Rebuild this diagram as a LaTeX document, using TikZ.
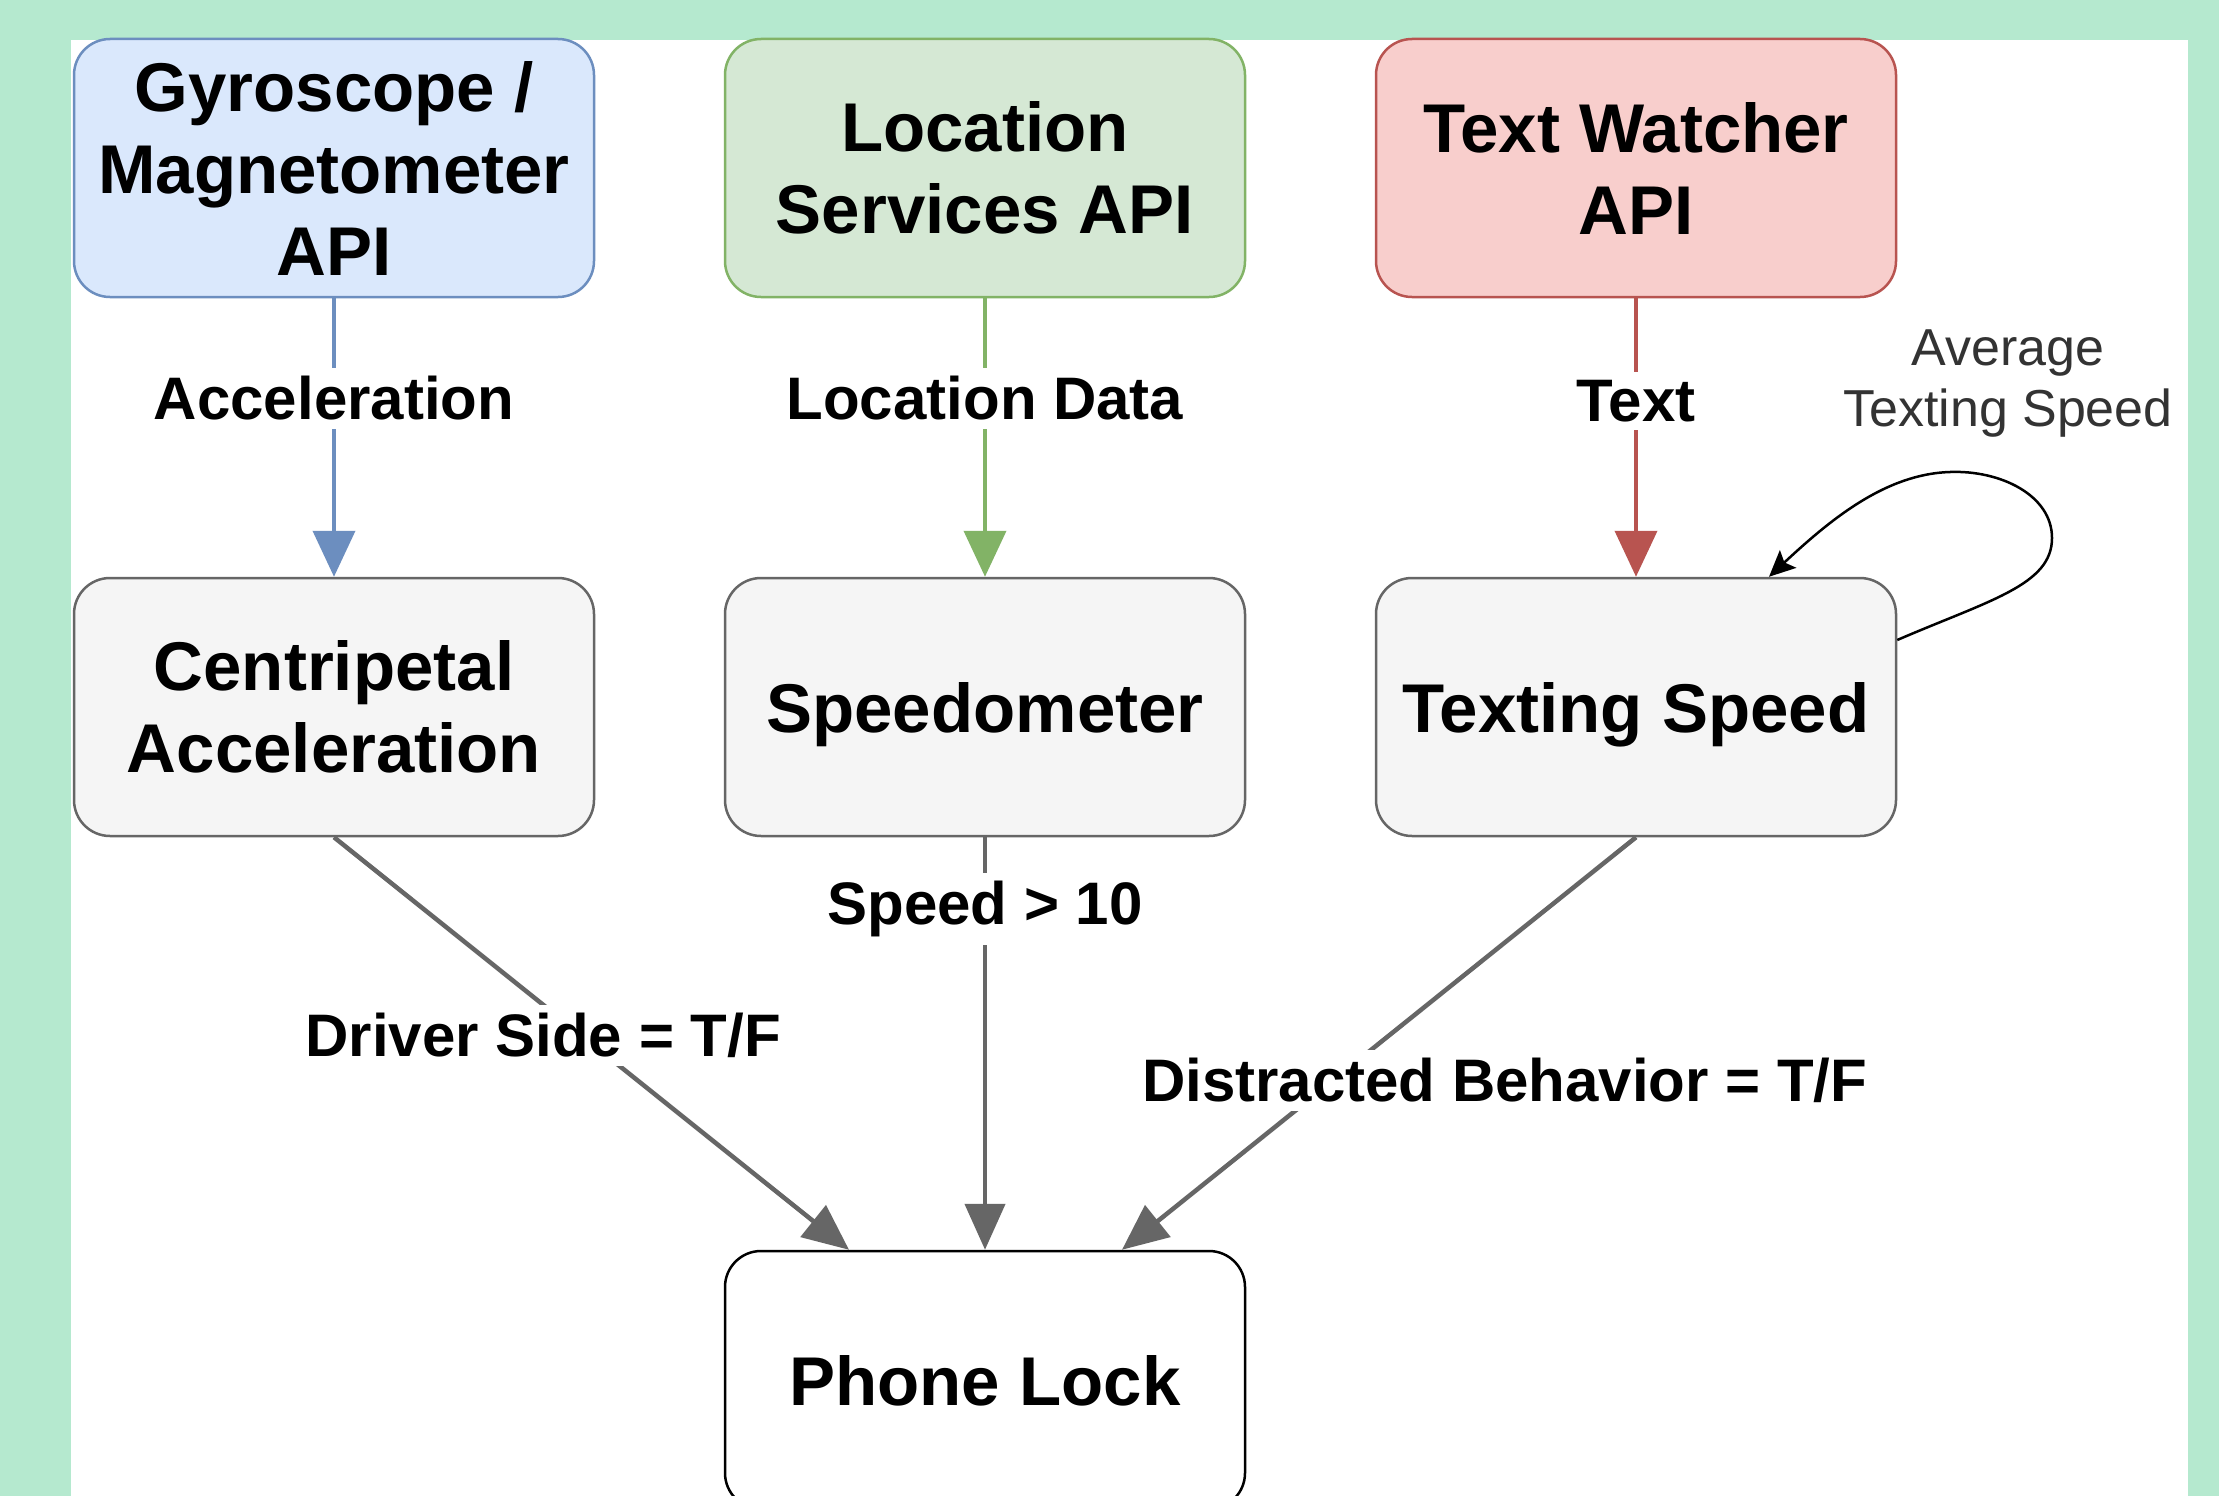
\documentclass[tikz,border=0pt]{standalone}
\usepackage{fontspec}
\setmainfont{Liberation Sans}
\usetikzlibrary{arrows.meta}
\definecolor{bggreen}{HTML}{B5E9CF}
\definecolor{bluefill}{HTML}{DAE8FC}
\definecolor{blueline}{HTML}{6C8EBF}
\definecolor{greenfill}{HTML}{D5E8D4}
\definecolor{greenline}{HTML}{82B366}
\definecolor{redfill}{HTML}{F8CECC}
\definecolor{redline}{HTML}{B85450}
\definecolor{grayfill}{HTML}{F5F5F5}
\definecolor{grayline}{HTML}{666666}
\definecolor{lbltext}{HTML}{333333}
\begin{document}
\begin{tikzpicture}[x=1pt,y=-1pt,
  box/.style={draw, line width=2.5pt, rounded corners=36pt, minimum width=520pt,
    minimum height=258pt, align=center, inner sep=0pt,
    font=\fontsize{69}{82}\selectfont\bfseries},
  oneline/.style={text height=50pt, text depth=0pt},
  elbl/.style={fill=white, inner sep=8pt, text=black,
    font=\fontsize{60}{70}\selectfont\bfseries},
  toparrow/.style={line width=4pt, -{Triangle[length=46pt,width=42pt]}},
  botarrow/.style={line width=4.5pt, draw=grayline, -{Triangle[length=46pt,width=40pt]}},
  loopline/.style={line width=2.5pt, draw=black, -{Stealth[length=26pt,width=24pt,inset=5pt]}},
  smalllbl/.style={align=center, text=lbltext, inner sep=0pt,
    font=\fontsize{52}{61}\selectfont}
]
\useasboundingbox (0,0) rectangle (2219,1496);
\fill[bggreen] (0,0) rectangle (2219,1496);
\fill[white] (71,40) rectangle (2188,1496);

% top row
\node[box, fill=bluefill, draw=blueline] (gyro) at (334,168) {Gyroscope /\\Magnetometer\\API};
\node[box, fill=greenfill, draw=greenline] (loc) at (985,168) {Location\\Services API};
\node[box, fill=redfill, draw=redline] (tw) at (1636,168) {Text Watcher\\API};

% middle row
\node[box, fill=grayfill, draw=grayline] (cent) at (334,707) {Centripetal\\Acceleration};
\node[box, oneline, fill=grayfill, draw=grayline] (speedo) at (985,707) {Speedometer};
\node[box, oneline, fill=grayfill, draw=grayline] (ts) at (1636,707) {Texting Speed};

% bottom
\node[box, oneline, fill=white, draw=black] (lock) at (985,1380) {Phone Lock};

% top arrows
\draw[toparrow, draw=blueline, fill=blueline] (gyro) -- node[elbl, pos=0.36] {Acceleration} (cent);
\draw[toparrow, draw=greenline, fill=greenline] (loc) -- node[elbl, pos=0.36] {Location Data} (speedo);
\draw[toparrow, draw=redline, fill=redline] (tw) -- node[elbl, pos=0.37] {Text} (ts);

% self loop
\draw[loopline] ([yshift=67pt]ts.east) .. controls (1990,600) and (2052,585) .. (2052,538)
  .. controls (2052,495) and (2000,470) .. (1950,472)
  .. controls (1885,474) and (1830,520) .. ([xshift=133pt]ts.north);
\node[smalllbl] (avg) at (2008,384) {Average\\Texting Speed};

% bottom arrows
\draw[botarrow, fill=grayline] (cent.south) -- node[elbl, pos=0.48, xshift=-38pt] {Driver Side = T/F} ([xshift=-136pt]lock.north);
\draw[botarrow, fill=grayline] (speedo.south) -- node[elbl, pos=0.175] {Speed > 10} (lock.north);
\draw[botarrow, fill=grayline] (ts.south) -- node[elbl, pos=0.59, xshift=172pt] {Distracted Behavior = T/F} ([xshift=137pt]lock.north);
\end{tikzpicture}
\end{document}
